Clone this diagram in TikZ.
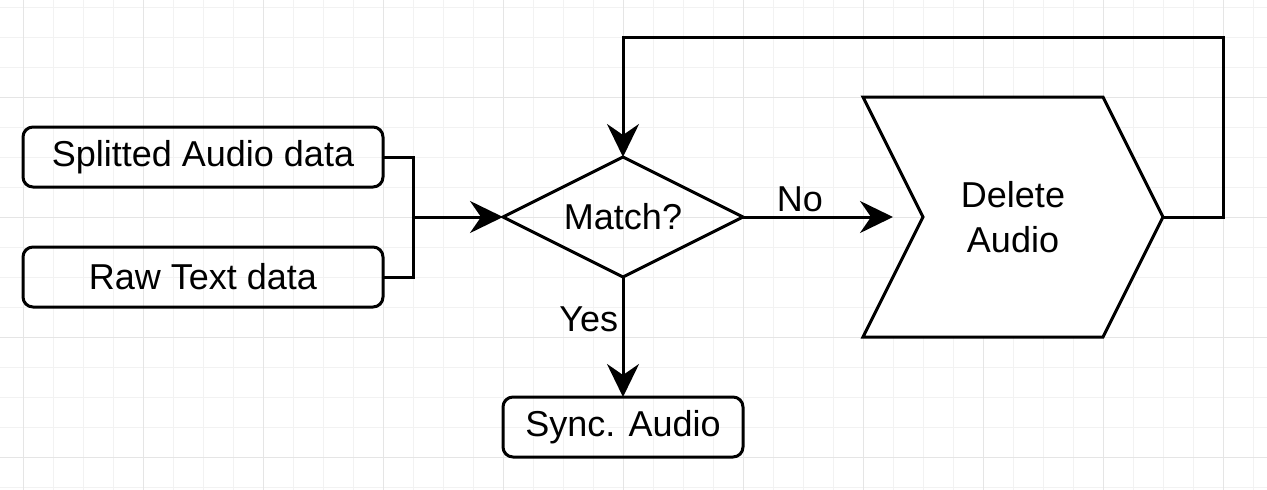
\documentclass[tikz,border=0pt]{standalone}
\usepackage{fontspec}
\setmainfont{Liberation Sans}
\usetikzlibrary{arrows.meta,shapes.geometric}

\tikzset{
  txt/.style={font=\fontsize{36}{45}\selectfont},
  databox/.style={txt, draw, line width=3pt, rounded corners=10pt, inner sep=0pt, outer sep=0pt},
  flow/.style={line width=3pt, -{Stealth[length=33pt, width=32pt, inset=11pt]}},
  link/.style={line width=3pt},
  gridminor/.style={draw=black!5, line width=1pt},
  gridmajor/.style={draw=black!10, line width=1pt}
}

\begin{document}
\begin{tikzpicture}[x=1pt, y=-1pt]
      \useasboundingbox (0,0) rectangle (1267,490);
      \fill [white] (0,0) rectangle (1267,490);

      % background grid
      \foreach \x in {-7,23,...,1267}
               {
                 \draw [gridminor] (\x,0) -- (\x,490);
               }
      \foreach \y in {7,37,...,490}
               {
                 \draw [gridminor] (0,\y) -- (1267,\y);
               }
      \foreach \x in {23,143,...,1267}
               {
                 \draw [gridmajor] (\x,0) -- (\x,490);
               }
      \foreach \y in {97,217,337,457}
               {
                 \draw [gridmajor] (0,\y) -- (1267,\y);
               }

      \node [databox, minimum width=360pt, minimum height=60pt] (audio) at (203, 157) {Splitted Audio data};
      \node [databox, minimum width=360pt, minimum height=60pt] (text) at (203, 277) {Raw Text data};

      \node [draw, diamond, line width=3pt, aspect=2, minimum width=240pt, minimum height=120pt,
             inner sep=0pt, outer sep=0pt, txt] (match) at (623, 217) {Match?};

      \node [databox, minimum width=240pt, minimum height=60pt] (sync) at (623, 427) {Sync. Audio};

      \draw [line width=3pt, line join=miter, fill=white]
            (863,97) -- (1103,97) -- (1163,217) -- (1103,337) -- (863,337) -- (923,217) -- cycle;
      \node [txt, align=center] (delete) at (1013, 217) {Delete\\Audio};
      \coordinate (delin) at (893, 217);
      \coordinate (delout) at (1163, 217);
      \coordinate (join) at (413, 217);

      \draw [link] (audio.east) -| (join);
      \draw [link] (text.east) -| (join);
      \draw [flow] (join) -- (match.west);

      \draw [flow] (match.east) -- node [txt, above, pos=0.38] (no) {No} (delin);
      \draw [flow] (match.south) -- node [txt, left, pos=0.35] (yes) {Yes} (sync.north);

      \draw [flow, line join=miter] (delout) -- (1223, 217) -- (1223, 37) -- (623, 37) -- (match.north);
    \end{tikzpicture}
\end{document}
